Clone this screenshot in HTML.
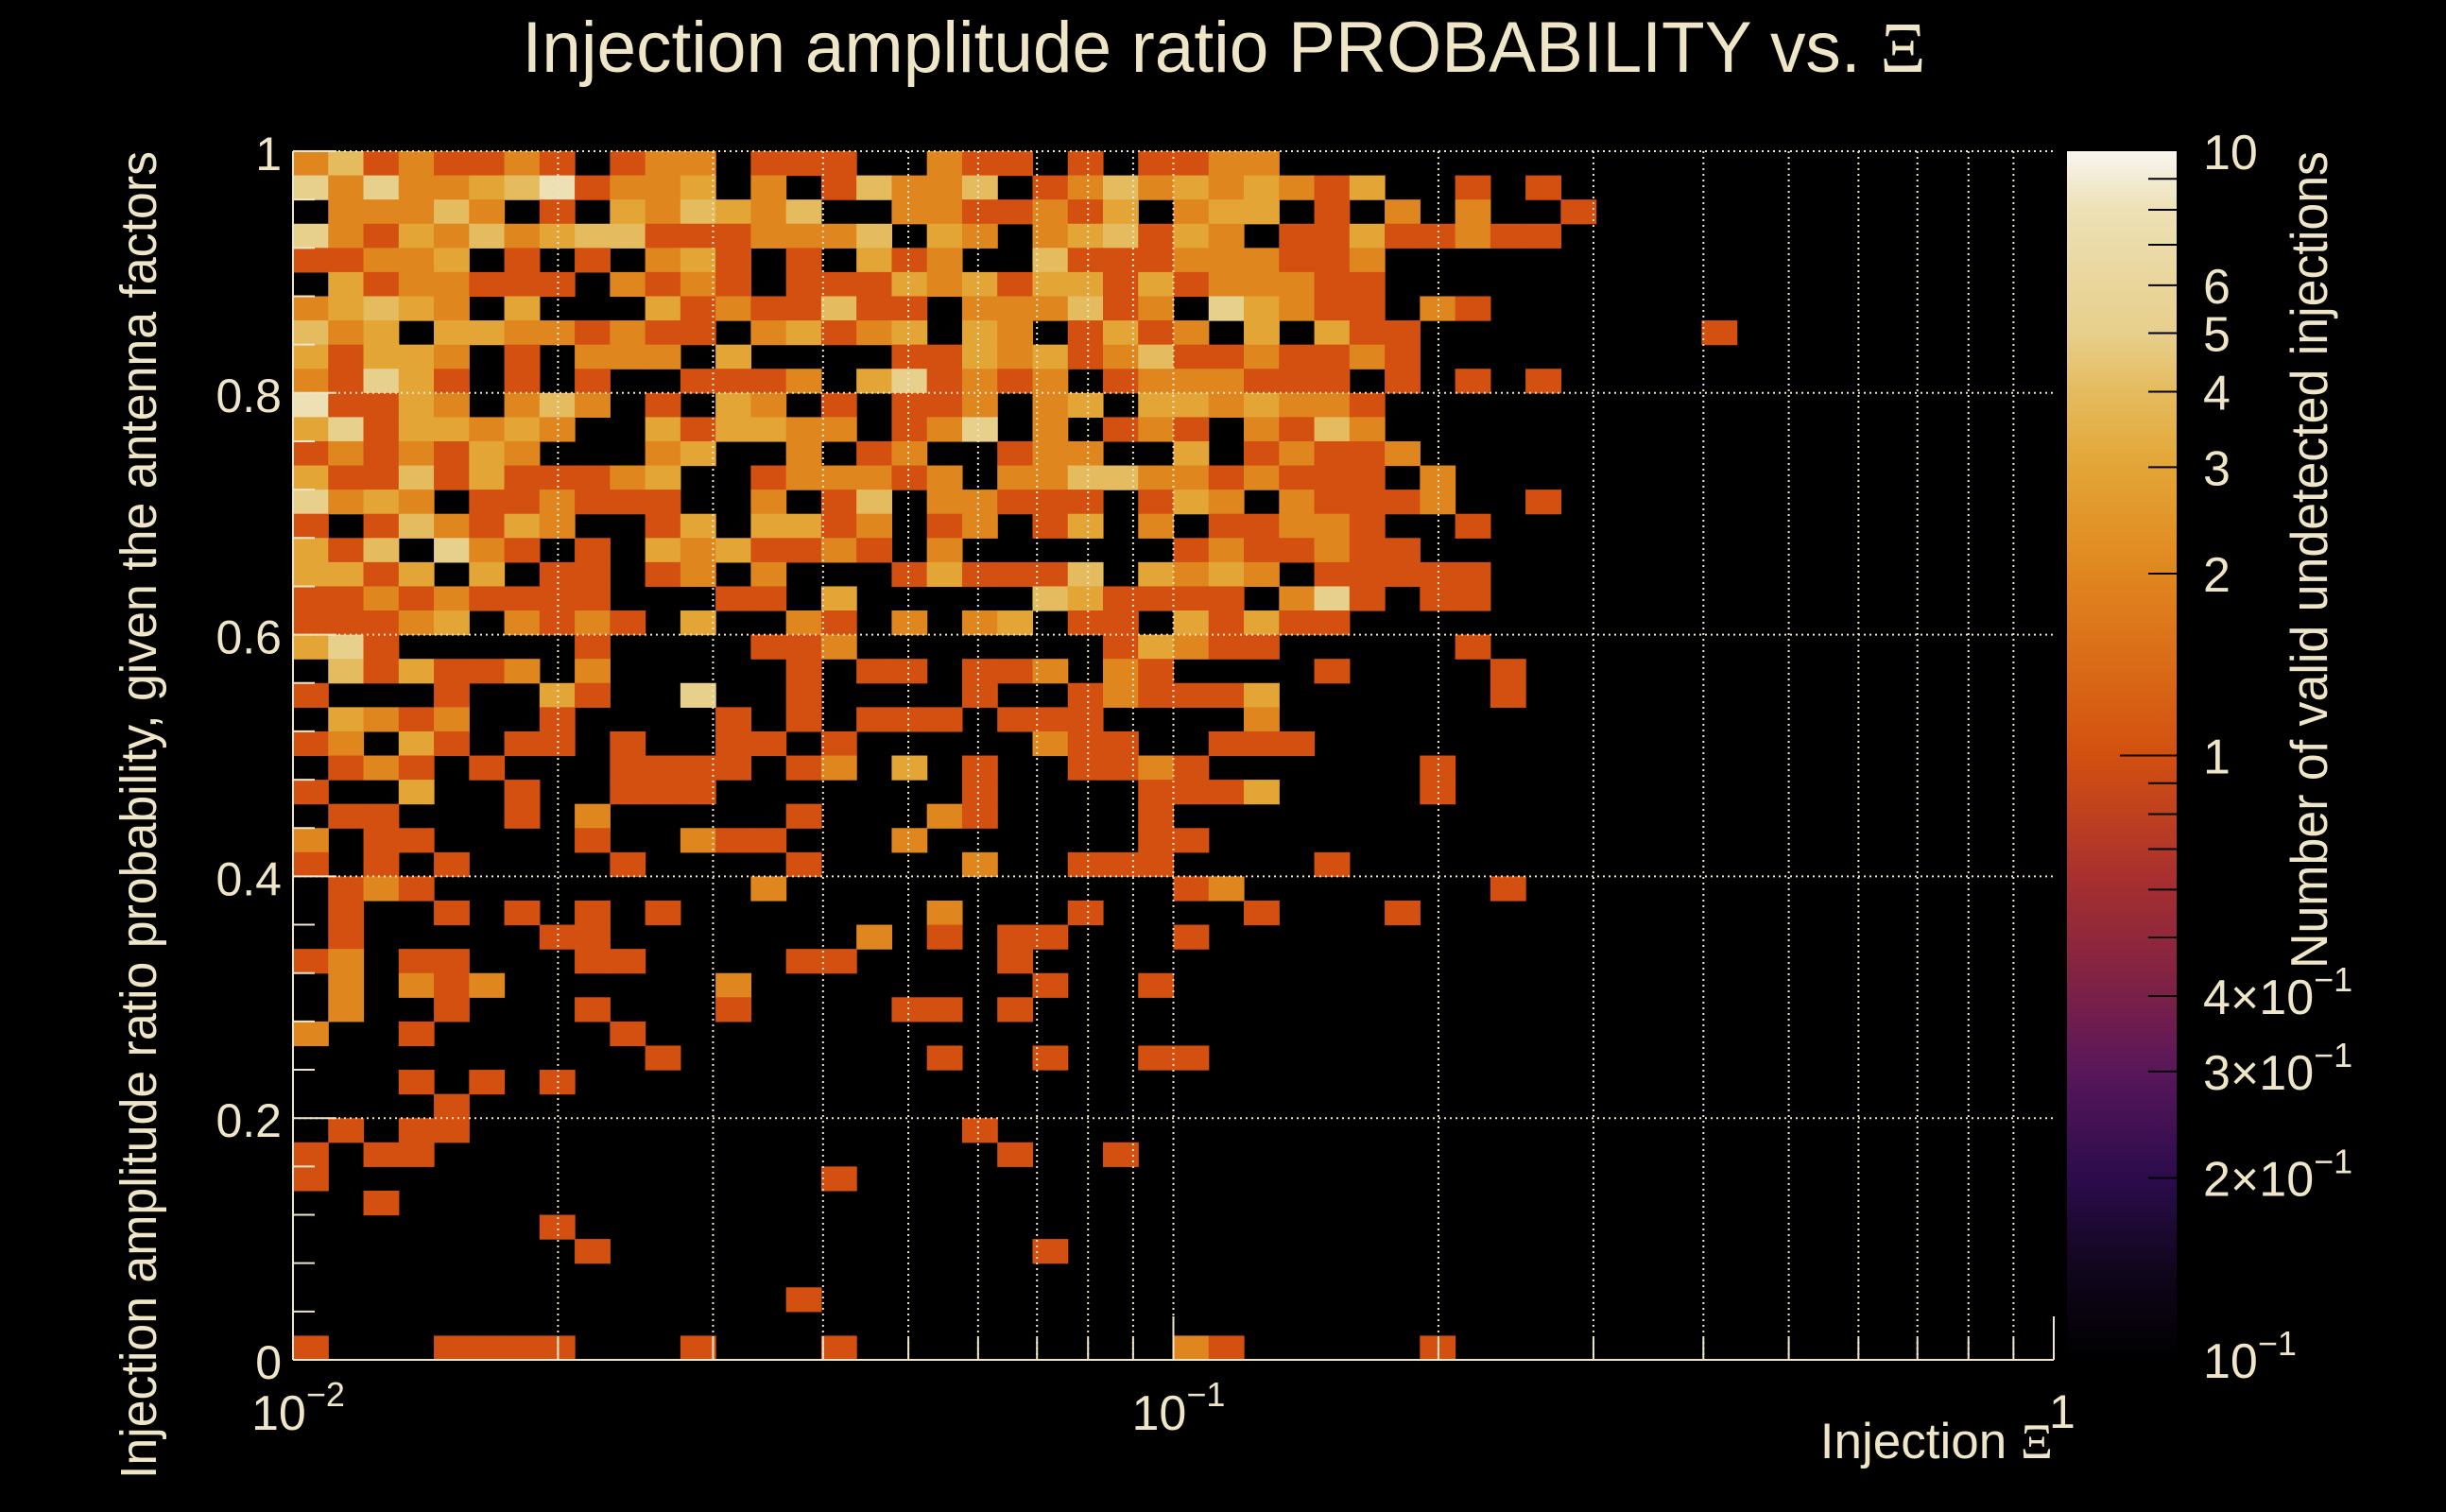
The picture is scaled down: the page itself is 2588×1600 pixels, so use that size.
<!DOCTYPE html>
<html><head><meta charset="utf-8"><title>Injection amplitude ratio PROBABILITY vs. Xi</title>
<style>
html,body{margin:0;padding:0;background:#000;}
svg{display:block;}
text{font-family:"Liberation Sans",sans-serif;fill:#efe6c8;}
</style></head>
<body>
<svg id="chart" width="2588" height="1600" viewBox="0 0 2588 1600" xmlns="http://www.w3.org/2000/svg">
<rect x="0" y="0" width="2588" height="1600" fill="#000"/>
<defs>
<linearGradient id="cmap" x1="0" y1="1" x2="0" y2="0"></linearGradient>
</defs>
<g id="cells"></g>
<g id="grid"></g>
<g id="axes"></g>
<g id="cbar"></g>
<text x="1295" y="76" font-size="76" text-anchor="middle" textLength="1485" lengthAdjust="spacingAndGlyphs">Injection amplitude ratio PROBABILITY vs.  <tspan font-family="Liberation Serif, serif">Ξ</tspan></text>
<text x="2172" y="1543" font-size="53" text-anchor="end">Injection <tspan font-family="Liberation Serif, serif">Ξ</tspan></text>
<text transform="translate(165,160) rotate(-90)" x="0" y="0" font-size="54" text-anchor="end" textLength="1405" lengthAdjust="spacingAndGlyphs">Injection amplitude ratio probability, given the antenna factors</text>
<text transform="translate(2462,160) rotate(-90)" x="0" y="0" font-size="55" text-anchor="end" textLength="865" lengthAdjust="spacingAndGlyphs">Number of valid undetected injections</text>
</svg>
<script>
// ---- data: counts per bin, row 0 = top (y 0.98-1.00), col 0 = x 10^-2; '.'=0, digit=count (7 means 8)
const countRows = [
"24121121.122.111..211.1.1122.......",
"525223471223.2.14224.1242323213..1.1",
".22242.1.324324..2211213.233.1.2.2..1",
"52132423441112224.32.234132.11311211",
"11223.1.1.231.1.312..4111222112....",
".3122111.2121.11132313313122211....",
"23432.3...31211411.222412.53211.21.",
"423.33221211.23123.32.1312.3.311........1",
"31332.1.222.3....113231241121121...",
"21531.1.1..1112.351212.1222111.1.1.1",
"71132.242.1.32.1.112.23.3323221....",
"35133232..313322.125.2.121.2142....",
"1212132...23..2.12..122..3.12112...",
"31141311123..122212.22442212111.2..",
"5232.112111..2.14.22111.132.21112..1",
"1.142132..13.3312.12.13.2.11221..1.",
"314.521.1.3231121.2......1211211...",
"3313.3.11.12.2...131114.3232.11111.",
"112121111...11.3.....431111.251.11.",
"11123.2121.3..21.2.23.11.31311.....",
"351.....1....112.......13211.....1.",
".413112.2.....1.11.112.21....1....1",
"1...1..31..5..1....1..121113......1",
".3212..1....1.1.111.111....2.......",
"12.31.11.1..11.1.....211..111......",
".121.1...1111.12.3.1..1121......1",
"1..3..1..111.......1....1113....1",
".11...1.2.....1...21....1",
"2.11....1..211...2......11",
"1.1.1....1....1....2..111....1",
".121.........2...........12.......1",
".1..1.1.1.1.......2...1....1...1",
".1.....11.......2.1.11...1",
"12.11...11....11....1",
".2.212......2........1..1",
".2..1...1...1....11.1",
"2..1.....1",
"..........1.......1..1..11",
"...1.1.1",
"....1",
".1.11..............1",
"1.11................1..1",
"1..............1",
"..1",
".......1",
"........1............1",
"",
"..............1",
"",
"1...1111...1...1.........21.....1"
];
const countLegend = {"1":1,"2":2,"3":3,"4":4,"5":5,"6":6,"7":8};
const xRange = [0.01, 1];
const yRange = [0, 1];
const nBinsX = 50, nBinsY = 50;
const yTicks = [0, 0.2, 0.4, 0.6, 0.8, 1];
const yTickLabels = ["0", "0.2", "0.4", "0.6", "0.8", "1"];
const cbTickValues = [10, 6, 5, 4, 3, 2, 1, 0.4, 0.3, 0.2, 0.1];
const cbTickMant = ["10", "6", "5", "4", "3", "2", "1", "4×10", "3×10", "2×10", "10"];
const cbTickExp = ["", "", "", "", "", "", "", "−1", "−1", "−1", "−1"];
const zRange = [0.1, 10];

// ---- layout
const PL = 310, PR = 2173, PT = 160, PB = 1439;
const CBL = 2187, CBR = 2303;
const NS = "http://www.w3.org/2000/svg";
function xScale(v){ return PL + (Math.log10(v) - Math.log10(xRange[0])) / (Math.log10(xRange[1]) - Math.log10(xRange[0])) * (PR - PL); }
function yScale(v){ return PB - (v - yRange[0]) / (yRange[1] - yRange[0]) * (PB - PT); }
function zFrac(z){ return (Math.log10(z) - Math.log10(zRange[0])) / (Math.log10(zRange[1]) - Math.log10(zRange[0])); }
function zScale(z){ return PB - zFrac(z) * (PB - PT); }
const stops = [[0,"#000000"],[0.08,"#12061f"],[0.1505,"#2c0c4c"],[0.2386,"#58175a"],[0.301,"#7a2048"],[0.40,"#a8302e"],[0.5,"#d35010"],[0.6505,"#e0861f"],[0.7386,"#e3a535"],[0.801,"#e4bb5e"],[0.849,"#e7cf8c"],[0.9515,"#ede0b5"],[1,"#f7f5ef"]];
function hex2rgb(h){ return [parseInt(h.substr(1,2),16),parseInt(h.substr(3,2),16),parseInt(h.substr(5,2),16)]; }
function cmap(t){
  t = Math.max(0, Math.min(1, t));
  for (let i = 1; i < stops.length; i++){
    if (t <= stops[i][0]){
      const a = stops[i-1], b = stops[i];
      const f = (t - a[0]) / (b[0] - a[0]);
      const ca = hex2rgb(a[1]), cb = hex2rgb(b[1]);
      const c = ca.map((v,k)=>Math.round(v + (cb[k]-v)*f));
      return "rgb(" + c.join(",") + ")";
    }
  }
  return stops[stops.length-1][1];
}
function mk(tag, attrs, parent){
  const e = document.createElementNS(NS, tag);
  for (const k in attrs) e.setAttribute(k, attrs[k]);
  parent.appendChild(e);
  return e;
}

// ---- cells
const gCells = document.getElementById("cells");
const lx0 = Math.log10(xRange[0]), lx1 = Math.log10(xRange[1]);
countRows.forEach(function(rowStr, r){
  const s = rowStr.replace(/ /g, "");
  for (let c = 0; c < nBinsX; c++){
    const ch = s.charAt(c);
    const cnt = countLegend[ch];
    if (!cnt) continue;
    const xa = Math.pow(10, lx0 + (lx1 - lx0) * c / nBinsX);
    const xb = Math.pow(10, lx0 + (lx1 - lx0) * (c + 1) / nBinsX);
    const j = nBinsY - 1 - r;
    const ya = yRange[0] + (yRange[1] - yRange[0]) * j / nBinsY;
    const yb = yRange[0] + (yRange[1] - yRange[0]) * (j + 1) / nBinsY;
    const x1 = xScale(xa), x2 = xScale(xb), y1 = yScale(yb), y2 = yScale(ya);
    const el = mk("rect", {x: x1.toFixed(2), y: y1.toFixed(2), width: (x2 - x1 + 0.6).toFixed(2), height: (y2 - y1 + 0.6).toFixed(2), fill: cmap(zFrac(cnt))}, gCells);
    
    
  }
});

// ---- grid
const gGrid = document.getElementById("grid");
const gridStyle = {stroke: "#efe6c8", "stroke-width": 2, "stroke-dasharray": "2 4"};
for (let d = -2; d < 0; d++){
  for (let m = 1; m <= 9; m++){
    if (d === -2 && m === 1) continue;
    const x = xScale(m * Math.pow(10, d));
    const l = mk("line", Object.assign({x1: x, x2: x, y1: PT, y2: PB}, gridStyle), gGrid);
    
    
  }
}
yTicks.forEach(function(v){
  if (v === 0) return;
  const y = yScale(v);
  const l = mk("line", Object.assign({x1: PL, x2: PR, y1: y, y2: y}, gridStyle), gGrid);
  
  
});

// ---- axes
const gAx = document.getElementById("axes");
const axCol = "#efe6c8";
let e;
e = mk("line", {x1: PL, x2: PL, y1: PT, y2: PB, stroke: axCol, "stroke-width": 2}, gAx);


e = mk("line", {x1: PL, x2: PR, y1: PB, y2: PB, stroke: axCol, "stroke-width": 2}, gAx);


for (let i = 0; i <= 25; i++){
  const v = i * 0.04;
  const y = yScale(v);
  const major = (i % 5 === 0);
  e = mk("line", {x1: PL, x2: PL + (major ? 46 : 23), y1: y, y2: y, stroke: axCol, "stroke-width": 2}, gAx);
  
  
}
yTicks.forEach(function(v, i){
  const t = mk("text", {x: 298, y: yScale(v) + 20, "font-size": 50, "text-anchor": "end"}, gAx);
  t.textContent = yTickLabels[i];
  
  
});
for (let d = -2; d <= 0; d++){
  for (let m = 1; m <= 9; m++){
    if (d === 0 && m > 1) break;
    const x = xScale(m * Math.pow(10, d));
    const major = (m === 1);
    e = mk("line", {x1: x, x2: x, y1: PB, y2: PB - (major ? 46 : 23), stroke: axCol, "stroke-width": 2}, gAx);
    
    
  }
}
[-2, -1].forEach(function(d){
  const t = mk("text", {x: xScale(Math.pow(10, d)) - 44, y: 1513, "font-size": 52}, gAx);
  t.appendChild(document.createTextNode("10"));
  const sp = mk("tspan", {dy: -25, "font-size": 36}, t);
  sp.textContent = "−" + (-d);
  
  
});
e = mk("text", {x: PR - 5, y: 1511, "font-size": 50}, gAx);
e.textContent = "1";



// ---- color bar
const grad = document.getElementById("cmap");
for (let i = 0; i <= 40; i++){
  const t = i / 40;
  mk("stop", {offset: t, "stop-color": cmap(t)}, grad);
}
const gCb = document.getElementById("cbar");
e = mk("rect", {x: CBL, y: PT, width: CBR - CBL, height: PB - PT, fill: "url(#cmap)"}, gCb);


const minorZ = [0.2,0.3,0.4,0.5,0.6,0.7,0.8,0.9,1,2,3,4,5,6,7,8,9];
minorZ.forEach(function(z){
  const y = zScale(z);
  const major = (z === 1);
  e = mk("line", {x1: CBR, x2: CBR - (major ? 60 : 30), y1: y, y2: y, stroke: "#000", "stroke-width": 2}, gCb);
  
  
});
cbTickValues.forEach(function(z, i){
  const t = mk("text", {x: 2331, y: zScale(z) + 19, "font-size": 52}, gCb);
  t.appendChild(document.createTextNode(cbTickMant[i]));
  if (cbTickExp[i]){
    const sp = mk("tspan", {dy: -24, "font-size": 36}, t);
    sp.textContent = cbTickExp[i];
  }
  
  
});
</script>
</body></html>
